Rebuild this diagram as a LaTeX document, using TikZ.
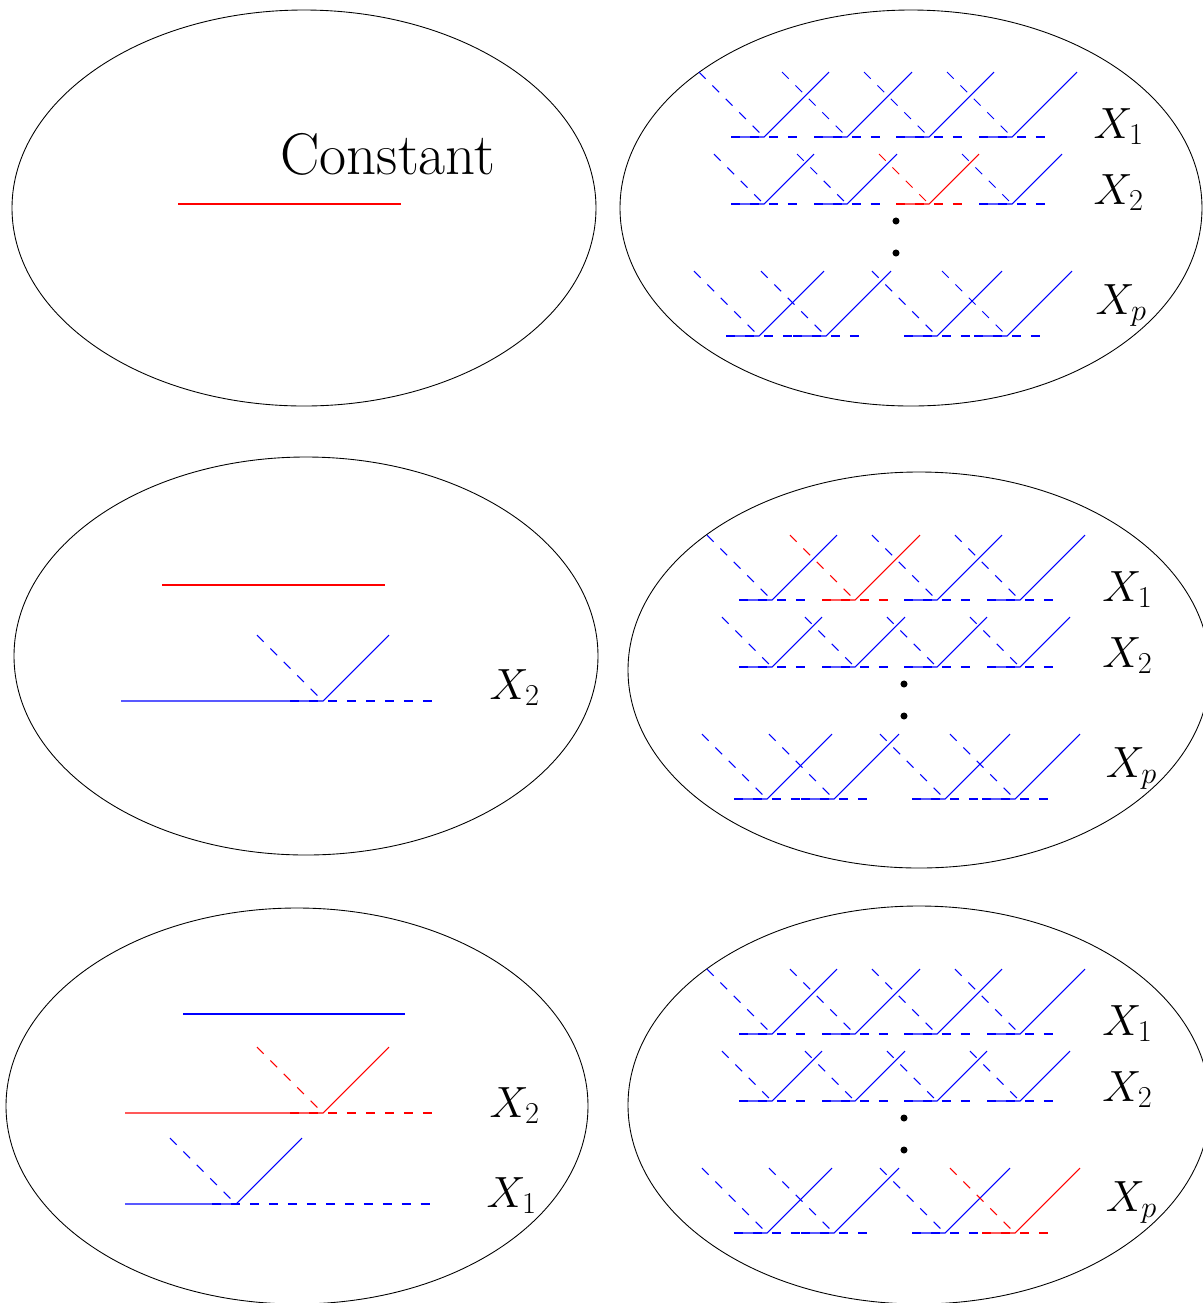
\documentclass[tikz,border=0pt]{standalone}
\usepackage{amsmath,amssymb}
\usepackage{tikz}

\tikzset{
    dsh/.style={dash pattern=on 5.4pt off 5.4pt},
    lbl/.style={inner sep=0pt, anchor=base west, font=\fontsize{25}{30}\selectfont},
}
% one hinge: knot x, knot y, height, colour
\newcommand{\drawhinge}[4]{%
    \draw[#4,dsh] (#1-33,#2) -- (#1+33,#2);
    \draw[#4] (#1-33,#2) -- (#1,#2) -- (#1+#3,#2-#3);
    \draw[#4,dsh] (#1-#3,#2-#3) -- (#1,#2);
}

\begin{document}
\begin{tikzpicture}[x=0.02cm, y=-0.02cm, line width=0.6pt]
    \useasboundingbox (0,0) rectangle (1203,1303);

    % Ellipses
    \draw[line width=0.5pt] (304,208) ellipse [x radius=292, y radius=198];
    \draw[line width=0.5pt] (911,208) ellipse [x radius=291, y radius=198];
    \draw[line width=0.5pt] (306,656) ellipse [x radius=292, y radius=199];
    \draw[line width=0.5pt] (919,670) ellipse [x radius=291, y radius=198];
    \draw[line width=0.5pt] (297,1106) ellipse [x radius=291, y radius=198];
    \draw[line width=0.5pt] (919,1105) ellipse [x radius=291, y radius=199];

    % Left column
    \node[lbl, font=\fontsize{33.5}{40}\selectfont] (const) at (280,174) {Constant};
    \draw[red] (178,204) -- (401,204);

    \draw[red] (162,585) -- (385,585);
    \draw[blue] (121,701) -- (323,701) -- (389,635);
    \draw[blue,dsh] (290,701) -- (437,701);
    \draw[blue,dsh] (257,635) -- (323,701);
    \node[lbl] (xb-mid) at (489,699) {$X_2$};

    \draw[blue] (183,1014) -- (405,1014);
    \draw[red] (125,1113) -- (323,1113) -- (389,1047);
    \draw[red,dsh] (290,1113) -- (438,1113);
    \draw[red,dsh] (257,1047) -- (323,1113);
    \draw[blue] (125,1204) -- (236,1204) -- (302,1138);
    \draw[blue,dsh] (212,1204) -- (432,1204);
    \draw[blue,dsh] (170,1138) -- (236,1204);
    \node[lbl] (xb-low) at (489,1117) {$X_2$};
    \node[lbl] (xa-low) at (486,1207) {$X_1$};

    % Right column: rows of hinges, one red hinge per panel (row*10+col)
    \foreach \ox/\oy/\redid in {0/0/23, 8/463/12, 8/897/34} {
        \foreach \kx [count=\i] in {764,847,929,1012} {
            \ifnum\numexpr10+\i\relax=\redid \def\hc{red}\else\def\hc{blue}\fi
            \drawhinge{\kx+\ox}{137+\oy}{65}{\hc}
            \ifnum\numexpr20+\i\relax=\redid \def\hc{red}\else\def\hc{blue}\fi
            \drawhinge{\kx+\ox}{204+\oy}{50}{\hc}
        }
        \foreach \kx [count=\i] in {759,826,937,1007} {
            \ifnum\numexpr30+\i\relax=\redid \def\hc{red}\else\def\hc{blue}\fi
            \drawhinge{\kx+\ox}{336+\oy}{65}{\hc}
        }
        % dots
        \fill (896+\ox,221+\oy) circle (2pt);
        \fill (896+\ox,253+\oy) circle (2pt);
        % labels
        \node[lbl] (xa-\oy) at (1093+\ox*1.1,138+\oy) {$X_1$};
        \node[lbl] (xb-\oy) at (1093+\ox*1.1,204+\oy) {$X_2$};
        \node[lbl] (xp-\oy) at (1095+\ox*1.3,314+\oy) {$X_p$};
    }
\end{tikzpicture}
\end{document}
